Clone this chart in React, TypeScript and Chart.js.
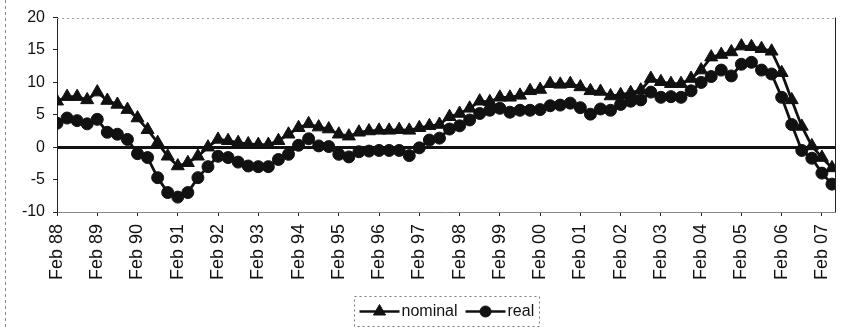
import React, { useEffect, useRef } from 'react';
import { Chart, registerables } from 'chart.js';

Chart.register(...registerables);

const FONT = '"Liberation Sans", Arial, sans-serif';

const years = ['88', '89', '90', '91', '92', '93', '94', '95', '96', '97', '98', '99', '00', '01', '02', '03', '04', '05', '06', '07'];
const months = ['Feb', 'May', 'Aug', 'Nov'];
const categories = years.flatMap((y) => months.map((m) => `${m} ${y}`)).slice(0, 78);
const tickLabels = years.map((y) => `Feb ${y}`);

const nominal = [
  7.1, 7.8, 7.8, 7.3, 8.5, 7.2, 6.6, 5.8, 4.5, 2.7,
  0.7, -1.4, -2.9, -2.4, -1.4, 0.0, 1.2, 1.0, 0.7, 0.5,
  0.4, 0.4, 1.0, 2.0, 3.0, 3.6, 3.1, 2.8, 2.0, 1.7,
  2.3, 2.5, 2.6, 2.6, 2.7, 2.6, 3.0, 3.3, 3.5, 4.7,
  5.2, 6.0, 7.1, 7.0, 7.7, 7.7, 8.0, 8.7, 8.9, 9.8,
  9.7, 9.8, 9.3, 8.7, 8.6, 7.9, 8.1, 8.4, 8.8, 10.6,
  10.1, 9.8, 9.8, 10.6, 11.9, 13.9, 14.3, 14.7, 15.6, 15.5,
  15.2, 14.8, 11.5, 7.3, 3.2, 0.2, -1.6, -3.2,
];

const real = [
  3.7, 4.5, 4.1, 3.6, 4.3, 2.3, 2.0, 1.2, -1.0, -1.6,
  -4.7, -7.0, -7.7, -7.0, -4.7, -3.0, -1.4, -1.6, -2.3, -2.9,
  -3.0, -3.0, -1.9, -1.1, 0.3, 1.3, 0.2, 0.1, -1.1, -1.5,
  -0.7, -0.6, -0.5, -0.5, -0.5, -1.3, -0.1, 1.1, 1.4, 2.8,
  3.3, 4.2, 5.2, 5.7, 6.0, 5.4, 5.7, 5.7, 5.8, 6.4,
  6.5, 6.8, 6.1, 5.1, 5.9, 5.7, 6.6, 7.1, 7.3, 8.5,
  7.7, 7.8, 7.7, 8.7, 10.0, 10.9, 11.9, 11.0, 12.8, 13.1,
  11.9, 11.3, 7.7, 3.5, -0.5, -1.7, -4.0, -5.7,
];

const yTicks = [-10, -5, 0, 5, 10, 15, 20];

function drawMarker(ctx: CanvasRenderingContext2D, style: string, x: number, y: number, r: number) {
  ctx.beginPath();
  if (style === 'triangle') {
    ctx.moveTo(x, y - r);
    ctx.lineTo(x + 0.866 * r, y + 0.5 * r);
    ctx.lineTo(x - 0.866 * r, y + 0.5 * r);
    ctx.closePath();
  } else {
    ctx.arc(x, y, r, 0, Math.PI * 2);
  }
  ctx.fill();
  ctx.stroke();
}

const framePlugin = {
  id: 'frameAndLegend',
  afterDraw(chart: any) {
    const { ctx, chartArea: a } = chart;
    ctx.save();
    const line = (x1: number, y1: number, x2: number, y2: number) => {
      ctx.beginPath();
      ctx.moveTo(x1, y1);
      ctx.lineTo(x2, y2);
      ctx.stroke();
    };
    // top border (dotted, faint)
    ctx.lineWidth = 1;
    ctx.strokeStyle = '#a0a0a0';
    ctx.setLineDash([2, 3]);
    line(a.left, Math.round(a.top) + 0.5, a.right, Math.round(a.top) + 0.5);
    // right border
    ctx.setLineDash([]);
    ctx.strokeStyle = '#222';
    line(Math.round(a.right) + 0.5, a.top, Math.round(a.right) + 0.5, a.bottom);
    // outer frame left (dashed)
    ctx.strokeStyle = '#8a8a8a';
    ctx.setLineDash([3, 3]);
    line(5.5, 0, 5.5, chart.height);

    // legend
    ctx.setLineDash([]);
    ctx.font = `16px ${FONT}`;
    const items = chart.data.datasets.map((ds: any) => ({
      label: ds.label as string,
      style: ds.pointStyle as string,
      r: (ds.pointRadius as number) - 0.5,
      w: ctx.measureText(ds.label).width,
    }));
    const pad = 5;
    const lineLen = 40;
    const gapText = 2;
    const gapItem = 8;
    let total = pad * 2;
    items.forEach((it: any, i: number) => {
      total += lineLen + gapText + it.w + (i > 0 ? gapItem : 0);
    });
    const boxTop = 296;
    const boxH = 30;
    const cx = (a.left + a.right) / 2;
    const boxLeft = Math.round(cx - total / 2) + 0.5;
    ctx.strokeStyle = '#777';
    ctx.lineWidth = 1;
    ctx.setLineDash([2, 3]);
    ctx.strokeRect(boxLeft, boxTop + 0.5, Math.round(total), boxH);
    ctx.setLineDash([]);
    const cy = boxTop + boxH / 2 + 0.5;
    let x = boxLeft + pad;
    items.forEach((it: any, i: number) => {
      if (i > 0) x += gapItem;
      ctx.strokeStyle = '#111';
      ctx.fillStyle = '#111';
      ctx.lineWidth = 2.5;
      line(x, cy, x + lineLen, cy);
      ctx.lineWidth = 1;
      drawMarker(ctx, it.style, x + lineLen / 2, cy, it.r);
      x += lineLen + gapText;
      ctx.fillStyle = '#111';
      ctx.textAlign = 'left';
      ctx.textBaseline = 'middle';
      ctx.fillText(it.label, x, cy);
      x += it.w;
    });
    ctx.restore();
  },
};

export default function App() {
  const canvasRef = useRef<HTMLCanvasElement | null>(null);

  useEffect(() => {
    if (!canvasRef.current) return;
    const chart = new Chart(canvasRef.current, {
      type: 'line',
      data: {
        labels: categories,
        datasets: [
          {
            label: 'nominal',
            data: nominal.map((v, i) => ({ x: i, y: v })),
            borderColor: '#111',
            backgroundColor: '#111',
            borderWidth: 2.8,
            pointStyle: 'triangle',
            pointRadius: 7.5,
            pointBorderWidth: 1,
            pointBorderColor: '#111',
            pointBackgroundColor: '#111',
            tension: 0,
          },
          {
            label: 'real',
            data: real.map((v, i) => ({ x: i, y: v })),
            borderColor: '#111',
            backgroundColor: '#111',
            borderWidth: 2.8,
            pointStyle: 'circle',
            pointRadius: 6,
            pointBorderWidth: 1,
            pointBorderColor: '#111',
            pointBackgroundColor: '#111',
            tension: 0,
          },
        ],
      },
      options: {
        animation: false,
        responsive: false,
        devicePixelRatio: 1,
        events: [],
        layout: { padding: { left: 0, right: 24, top: 16, bottom: 44 } },
        plugins: {
          legend: { display: false },
          tooltip: { enabled: false },
        },
        scales: {
          x: {
            type: 'linear',
            min: 0,
            max: 77.3,
            afterBuildTicks: (s: any) => {
              s.ticks = tickLabels.map((_, k) => ({ value: k * 4 }));
            },
            afterFit: (s: any) => {
              s.height = 72;
            },
            ticks: {
              autoSkip: false,
              minRotation: 90,
              maxRotation: 90,
              color: '#111',
              padding: 8,
              font: { size: 18, family: FONT },
              callback: (v: any) => tickLabels[Math.round(Number(v) / 4)] ?? '',
            },
            grid: { drawOnChartArea: false, tickColor: '#222', tickLength: 4, tickWidth: 1 },
            border: { display: true, color: '#888', dash: [2, 3], width: 1 },
          },
          y: {
            min: -10,
            max: 20,
            afterBuildTicks: (s: any) => {
              s.ticks = yTicks.map((v) => ({ value: v }));
            },
            afterFit: (s: any) => {
              s.width = 57;
            },
            ticks: {
              color: '#111',
              padding: 8,
              font: { size: 16, family: FONT },
            },
            grid: {
              drawOnChartArea: true,
              color: (c: any) => (c.tick && c.tick.value === 0 ? '#111' : 'rgba(0,0,0,0)'),
              lineWidth: (c: any) => (c.tick && c.tick.value === 0 ? 3 : 1),
              tickColor: '#222',
              tickLength: 4,
              tickWidth: 1,
            },
            border: { display: true, color: '#222', width: 1 },
          },
        },
      },
      plugins: [framePlugin],
    } as any);
    return () => chart.destroy();
  }, []);

  return (
    <div style={{ position: 'absolute', left: 0, top: 0, width: 859, height: 328, background: '#fff' }}>
      <canvas ref={canvasRef} width={859} height={328} />
    </div>
  );
}
